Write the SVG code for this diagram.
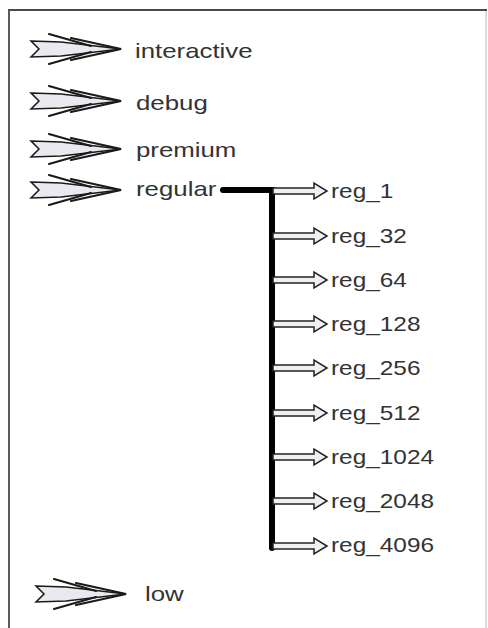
<svg xmlns="http://www.w3.org/2000/svg" width="488" height="628" viewBox="0 0 488 628">
<defs>
<style>
.lbl{font-family:"Liberation Sans",Arial,sans-serif;font-size:21px;fill:#333}
.rl{font-family:"Liberation Sans",Arial,sans-serif;font-size:20px;fill:#333}
.body{fill:#e8eaf0;stroke:#1a1a1a;stroke-width:1.5;stroke-linejoin:miter}
.barb{fill:none;stroke:#1a1a1a;stroke-width:2.2;stroke-linecap:round;stroke-linejoin:miter}
.ba{fill:#eef0f4;stroke:#222;stroke-width:1.5}
</style>
<g id="dart">
<path class="body" d="M0,-8 L30,-7 L90,0 L30,7 L0,8 L8,0 Z"/>
<path class="barb" d="M18,-15 L60,-3 M18,15 L60,3"/>
<path class="barb" d="M40,-11 L90,0 L40,11"/>
</g>
<path id="barrow" class="ba" d="M0,-3 L41,-3 L41,-8 L54,0 L41,8 L41,3 L0,3 Z"/>
</defs>
<rect width="488" height="628" fill="#fff"/>
<g id="frame" fill="none">
<line x1="8" y1="10" x2="487" y2="10" stroke="#4a4a4a" stroke-width="2"/>
<line x1="9" y1="10" x2="9" y2="628" stroke="#5a5a5a" stroke-width="2"/>
<line x1="486" y1="11" x2="486" y2="628" stroke="#d0d0d0" stroke-width="1.5"/>
</g>
<g id="connectors">
<path d="M223,190 L272,190 L272,548" fill="none" stroke="#000" stroke-width="6" stroke-linecap="round" stroke-linejoin="miter"/>
</g>
<g id="interactive"><use href="#dart" x="31" y="49"/><text class="lbl" transform="translate(135,58) scale(1.23,1)">interactive</text></g>
<g id="debug"><use href="#dart" x="31" y="101"/><text class="lbl" transform="translate(136,110) scale(1.23,1)">debug</text></g>
<g id="premium"><use href="#dart" x="31" y="149"/><text class="lbl" transform="translate(136,157) scale(1.23,1)">premium</text></g>
<g id="regular"><use href="#dart" x="31" y="190"/><text class="lbl" transform="translate(136,196) scale(1.23,1)">regular</text></g>
<g id="low"><use href="#dart" x="36" y="594"/><text class="lbl" transform="translate(145,601) scale(1.23,1)">low</text></g>
<g id="reg_1"><use href="#barrow" x="273" y="191"/><text class="rl" transform="translate(331,198) scale(1.22,1)">reg_1</text></g>
<g id="reg_32"><use href="#barrow" x="273" y="236"/><text class="rl" transform="translate(331,243) scale(1.22,1)">reg_32</text></g>
<g id="reg_64"><use href="#barrow" x="273" y="280"/><text class="rl" transform="translate(331,287) scale(1.22,1)">reg_64</text></g>
<g id="reg_128"><use href="#barrow" x="273" y="324"/><text class="rl" transform="translate(331,331) scale(1.22,1)">reg_128</text></g>
<g id="reg_256"><use href="#barrow" x="273" y="368"/><text class="rl" transform="translate(331,375) scale(1.22,1)">reg_256</text></g>
<g id="reg_512"><use href="#barrow" x="273" y="413"/><text class="rl" transform="translate(331,420) scale(1.22,1)">reg_512</text></g>
<g id="reg_1024"><use href="#barrow" x="273" y="457"/><text class="rl" transform="translate(331,464) scale(1.22,1)">reg_1024</text></g>
<g id="reg_2048"><use href="#barrow" x="273" y="501"/><text class="rl" transform="translate(331,508) scale(1.22,1)">reg_2048</text></g>
<g id="reg_4096"><use href="#barrow" x="273" y="546"/><text class="rl" transform="translate(331,552) scale(1.22,1)">reg_4096</text></g>
</svg>
